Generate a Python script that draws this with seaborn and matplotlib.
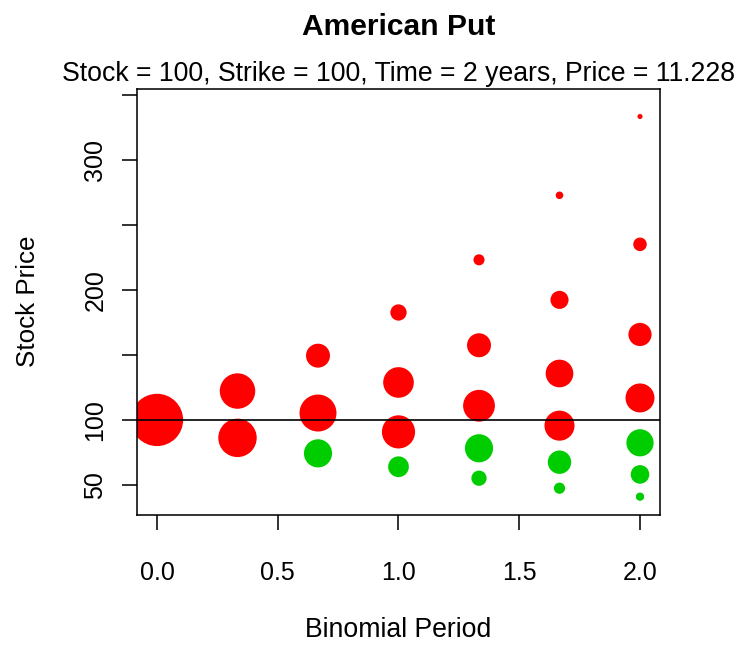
import matplotlib
matplotlib.use("Agg")
import matplotlib.pyplot as plt
import seaborn as sns
import pandas as pd

# binomial tree nodes, one list per period (top node first)
periods = [0.0, 1/3, 2/3, 1.0, 4/3, 5/3, 2.0]
stock = [
    [100.0],
    [122.2, 86.2],
    [149.4, 105.3, 74.3],
    [182.6, 128.8, 90.8, 64.0],
    [223.1, 157.4, 110.9, 78.2, 55.2],
    [272.7, 192.3, 135.7, 95.6, 67.5, 47.5],
    [333.3, 235.0, 165.7, 116.9, 82.4, 58.1, 41.0],
]
# chance of reaching each node (read from circle areas)
prob = [
    [1.0],
    [0.46, 0.54],
    [0.21, 0.50, 0.29],
    [0.097, 0.343, 0.402, 0.157],
    [0.045, 0.21, 0.37, 0.29, 0.085],
    [0.021, 0.12, 0.28, 0.33, 0.20, 0.046],
    [0.0095, 0.067, 0.196, 0.307, 0.270, 0.127, 0.025],
]
# early exercise at node?
exercise = [
    [False],
    [False, False],
    [False, False, True],
    [False, False, False, True],
    [False, False, False, True, True],
    [False, False, False, False, True, True],
    [False, False, False, False, True, True, True],
]
strike = 100

rows = []
for t, s_col, p_col, e_col in zip(periods, stock, prob, exercise):
    for s, p, e in zip(s_col, p_col, e_col):
        rows.append({"period": t, "price": s, "prob": p,
                     "state": "exercise" if e else "hold"})
df = pd.DataFrame(rows)

plt.rcParams['font.family'] = ['Liberation Sans', 'DejaVu Sans']

fig = plt.figure(figsize=(4.9, 4.3), dpi=150)
ax = fig.add_axes([137/735, 1 - 515/645, 523/735, (515 - 89.3)/645])

sns.scatterplot(data=df, x="period", y="price", hue="state", size="prob",
                sizes=(0, 630), size_norm=(0, 1),
                palette={"hold": "#FF0000", "exercise": "#00CD00"},
                linewidth=0, alpha=1, legend=False, ax=ax, zorder=2)
ax.axhline(strike, color="black", lw=0.8, zorder=3)

ax.set_xlim(-0.0828, 2.0828)
ax.set_ylim(26.9, 354.2)
ax.set_xticks([0, 0.5, 1.0, 1.5, 2.0])
ax.set_xticklabels(["0.0", "0.5", "1.0", "1.5", "2.0"])
ax.set_yticks([50, 100, 150, 200, 250, 300, 350])
ax.set_yticklabels(["50", "100", "", "200", "", "300", ""], rotation=90, va="center")
ax.tick_params(length=7.2, width=0.75, labelsize=12, color="black")
ax.tick_params(axis="x", pad=15)
ax.tick_params(axis="y", pad=7)
for sp in ax.spines.values():
    sp.set_linewidth(0.75)
    sp.set_color("black")
ax.set_xlabel("")
ax.set_ylabel("")

cx = (137 + 660) / 2 / 735
fig.text(cx, 1 - 35/645, "American Put", ha="center", va="baseline",
         fontsize=14.4, fontweight="bold")
fig.text(cx, 1 - 81/645, "Stock = 100, Strike = 100, Time = 2 years, Price = 11.228",
         ha="center", va="baseline", fontsize=12.75)
fig.text(cx, 1 - 637/645, "Binomial Period", ha="center", va="baseline", fontsize=12.8)
fig.text(35/735, 1 - 301/645, "Stock Price", ha="center", va="baseline",
         rotation=90, rotation_mode="anchor", fontsize=12.5)

fig.savefig("out.png", dpi=150)
